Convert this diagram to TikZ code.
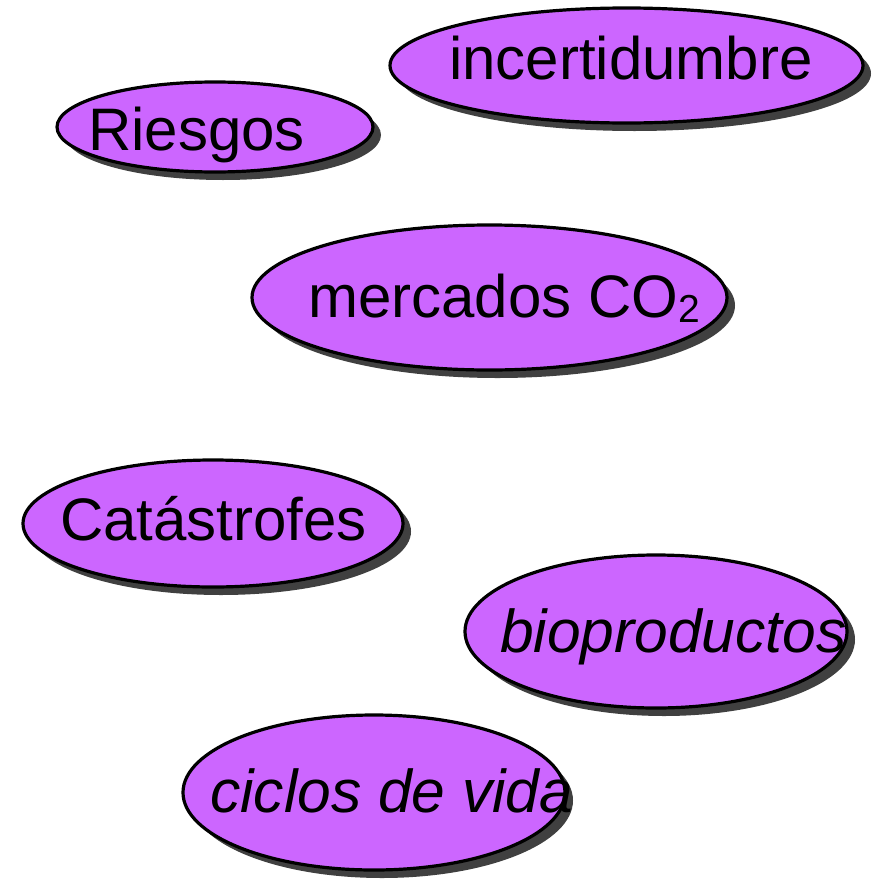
\documentclass[tikz,border=0pt]{standalone}
\usepackage{fontspec}
\setmainfont{Liberation Sans}
\usetikzlibrary{shadows,shapes.geometric}
\definecolor{ellfill}{HTML}{CC66FF}
\tikzset{
  bubble/.style={ellipse, draw=black, line width=3.2pt, fill=ellfill, inner sep=0pt,
    drop shadow={shadow xshift=8pt, shadow yshift=-8pt, fill=black!75, opacity=1}},
  word/.style={anchor=base west, inner sep=0pt, font=\fontsize{60}{60}\selectfont},
  iword/.style={word, font=\fontsize{60.5}{60}\selectfont\itshape}
}
\begin{document}
\begin{tikzpicture}[x=1pt,y=-1pt]
\useasboundingbox (0,0) rectangle (883,878);
\node[bubble, minimum width=316pt, minimum height=90pt] (e1) at (215,127) {};
\node[bubble, minimum width=473pt, minimum height=115pt] (e2) at (626.5,65.5) {};
\node[bubble, minimum width=475pt, minimum height=145pt] (e3) at (489.5,297.5) {};
\node[bubble, minimum width=380pt, minimum height=127pt] (e4) at (213,523.5) {};
\node[bubble, minimum width=382pt, minimum height=153pt] (e5) at (656,631.5) {};
\node[bubble, minimum width=382pt, minimum height=155pt] (e6) at (374,792.5) {};
\node[word] (t1) at (88,150) {Riesgos};
\node[word] (t2) at (449,79) {incertidumbre};
\node[word] (t3) at (308,317) {mercados CO\raisebox{-5pt}{\fontsize{39}{39}\selectfont 2}};
\node[word] (t4) at (60,540) {Catástrofes};
\node[iword] (t5) at (500,652) {bioproductos};
\node[iword] (t6) at (210,812) {ciclos de vida};
\end{tikzpicture}
\end{document}
